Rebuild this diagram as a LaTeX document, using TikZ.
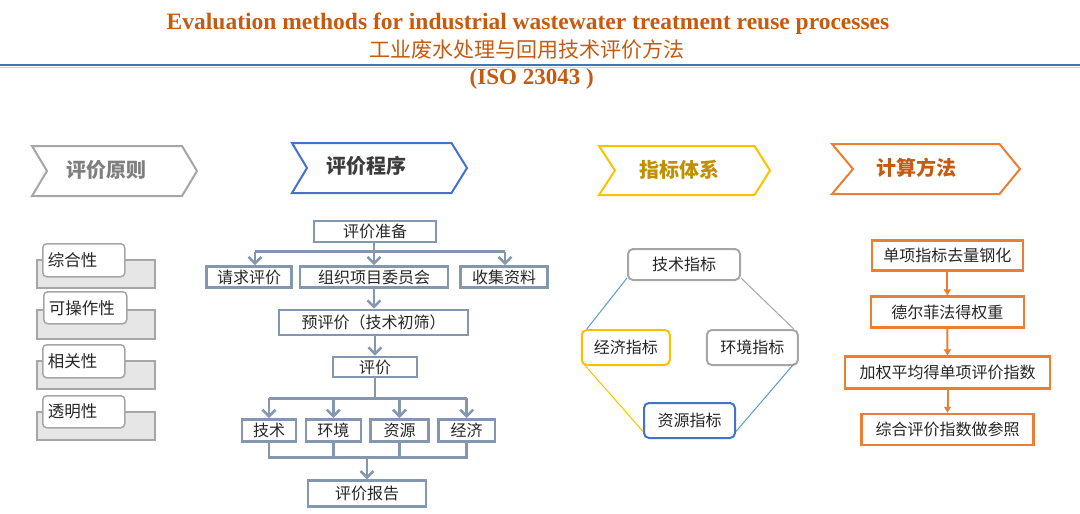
\documentclass[tikz,border=0pt]{standalone}
\usepackage{fontspec}
\setmainfont{Liberation Serif}
\newfontfamily\cjk{Noto Sans CJK SC}
\usetikzlibrary{arrows.meta,calc}
\definecolor{ttl}{HTML}{C55A11}
\definecolor{bl}{HTML}{3B78B8}
\definecolor{gr}{HTML}{A6A6A6}
\definecolor{grtx}{HTML}{7F7F7F}
\definecolor{bluec}{HTML}{4472C4}
\definecolor{yel}{HTML}{FFC000}
\definecolor{yeltx}{HTML}{BF9000}
\definecolor{org}{HTML}{ED7D31}
\definecolor{slate}{HTML}{8497B0}
\definecolor{lblue}{HTML}{5B9BD5}
\definecolor{tx}{HTML}{262626}
\definecolor{shade}{HTML}{E6E6E6}
\tikzset{
  hdr/.style={font=\cjk\bfseries\fontsize{20}{24}\selectfont},
  procbox/.style={draw=slate, line width=2.6pt, inner sep=0pt, text=tx, font=\cjk\fontsize{16}{19}\selectfont},
  procarr/.style={draw=slate, line width=2.6pt, -{Straight Barb[length=6.5pt,width=13pt]}},
  procln/.style={draw=slate, line width=2.6pt},
  pshade/.style={draw=gr, fill=shade, line width=1.5pt, inner sep=0pt, anchor=north west},
  pbox/.style={draw=gr, fill=white, line width=1.5pt, rounded corners=4pt, anchor=north west, inner xsep=5pt, inner ysep=0pt, align=left, text=tx, font=\cjk\fontsize{16.5}{19}\selectfont},
  indbox/.style={line width=2pt, rounded corners=5pt, inner sep=0pt, text=tx, font=\cjk\fontsize{16}{19}\selectfont},
  calcbox/.style={draw=org, line width=2.5pt, inner sep=0pt, text=tx, font=\cjk\fontsize{16}{19}\selectfont},
  calcarr/.style={draw=org, line width=2pt, -{Triangle[length=6pt,width=7pt]}},
}
\begin{document}
\begin{tikzpicture}[x=1pt,y=-1pt]
\useasboundingbox (0,0) rectangle (1080,514);
% titles
\node[anchor=base, text=ttl, font=\bfseries\fontsize{23.5}{26}\selectfont, inner sep=0pt] (t1) at (528,30) {Evaluation methods for industrial wastewater treatment reuse processes};
\node[text=ttl, font=\cjk\fontsize{21}{24}\selectfont, inner sep=0pt] (t2) at (527,49.5) {工业废水处理与回用技术评价方法};
\node[anchor=base, text=ttl, font=\bfseries\fontsize{23}{26}\selectfont, inner sep=0pt] (t3) at (531.7,84.3) {(ISO 23043 )};
\draw[gr!50, line width=1pt] (0,67) -- (1080,67);
\draw[bl, line width=2.5pt] (0,65) -- (1080,65);
% chevrons
\draw[gr, line width=2pt] (32,146) -- (182,146) -- (197,171) -- (182,196) -- (32,196) -- (47,171) -- cycle;
\node[hdr, text=grtx] (h1) at (106,170) {评价原则};
\draw[bluec, line width=2pt] (292,143) -- (451.5,143) -- (467,168) -- (451.5,193) -- (292,193) -- (307,168) -- cycle;
\node[hdr, text=tx!90] (h2) at (366,166) {评价程序};
\draw[yel, line width=2pt] (599,146) -- (754.5,146) -- (770,170.5) -- (754.5,195) -- (599,195) -- (615,170.5) -- cycle;
\node[hdr, text=yeltx] (h3) at (679,170) {指标体系};
\draw[org, line width=2pt] (832,144) -- (999.5,144) -- (1020,169) -- (999.5,194) -- (832,194) -- (853,169) -- cycle;
\node[hdr, text=ttl] (h4) at (916.6,168) {计算方法};
% principles
\node[pshade, minimum width=118pt, minimum height=28pt] (g1) at (36,259) {};
\node[pbox, text width=72pt, minimum height=33pt] (p1) at (42,243) {综合性};
\node[pshade, minimum width=118pt, minimum height=29pt] (g2) at (36,309) {};
\node[pbox, text width=73pt, minimum height=32pt] (p2) at (43,291) {可操作性};
\node[pshade, minimum width=118pt, minimum height=28pt] (g3) at (36,360) {};
\node[pbox, text width=72pt, minimum height=33pt] (p3) at (42,344) {相关性};
\node[pshade, minimum width=118pt, minimum height=28pt] (g4) at (36,411) {};
\node[pbox, text width=72pt, minimum height=32pt] (p4) at (42,395) {透明性};
% procedure
\node[procbox, minimum width=122pt, minimum height=21pt] (prep) at (375,231.3) {评价准备};
\node[procbox, minimum width=85pt, minimum height=21pt] (req) at (249.2,277) {请求评价};
\node[procbox, minimum width=148pt, minimum height=21pt] (orgc) at (374,277) {组织项目委员会};
\node[procbox, minimum width=86.6pt, minimum height=21pt] (col) at (504,277) {收集资料};
\node[procbox, minimum width=189pt, minimum height=25pt] (pre) at (373.5,322.5) {预评价（技术初筛）};
\node[procbox, minimum width=84pt, minimum height=20pt] (ev) at (375,367) {评价};
\node[procbox, minimum width=54pt, minimum height=22.4pt] (tech) at (269,430.5) {技术};
\node[procbox, minimum width=55pt, minimum height=22.4pt] (env) at (333.3,430.5) {环境};
\node[procbox, minimum width=57.6pt, minimum height=22.4pt] (res) at (399.5,430.5) {资源};
\node[procbox, minimum width=56.7pt, minimum height=22.4pt] (eco) at (466.7,430.5) {经济};
\node[procbox, minimum width=118pt, minimum height=26pt] (rep) at (367,493.7) {评价报告};
\coordinate (b1l) at (255,251.7);
\coordinate (b1r) at (505,251.7);
\coordinate (b1m) at (374,251.7);
\draw[procln] (b1l) -- (b1r);
\draw[procarr] (b1l) -- (b1l |- req.north);
\draw[procarr] (b1r) -- (b1r |- col.north);
\draw[procarr] (prep.south -| b1m) -- (orgc.north -| b1m);
\draw[procarr] (orgc.south -| b1m) -- (pre.north -| b1m);
\draw[procarr] (pre.south -| ev) -- (ev.north);
\coordinate (b2m) at (375,398.3);
\draw[procln] (ev.south) -- (b2m);
\draw[procln] (b2m -| tech) -- (b2m -| eco);
\draw[procarr] (b2m -| tech) -- (tech.north);
\draw[procarr] (b2m -| env) -- (env.north);
\draw[procarr] (b2m -| res) -- (res.north);
\draw[procarr] (b2m -| eco) -- (eco.north);
\coordinate (b3m) at (367,457.7);
\draw[procln] (tech.south) -- (b3m -| tech) -- (b3m -| eco) -- (eco.south);
\draw[procln] (env.south) -- (b3m -| env);
\draw[procln] (res.south) -- (b3m -| res);
\draw[procarr] (b3m) -- (rep.north);
% indicators
\node[indbox, draw=gr, minimum width=112pt, minimum height=31pt] (ti) at (684,264.5) {技术指标};
\node[indbox, draw=yel, minimum width=88pt, minimum height=35pt] (ei) at (625.8,347.5) {经济指标};
\node[indbox, draw=gr, minimum width=91pt, minimum height=35pt] (hi) at (752.3,347.5) {环境指标};
\node[indbox, draw=bluec, minimum width=91pt, minimum height=35pt] (ri) at (689.5,420.5) {资源指标};
\draw[lblue, line width=1pt] ($(ti.south west)+(0,-3)$) -- ($(ei.north west)+(6,0)$);
\draw[gr, line width=1pt] ($(ti.south east)+(0,-3)$) -- ($(hi.north east)+(-5,0)$);
\draw[yel, line width=1pt] ($(ei.south west)+(3,-2)$) -- ($(ri.west)+(0,11)$);
\draw[lblue, line width=1pt] ($(hi.south east)+(-5,-2)$) -- ($(ri.east)+(0,11)$);
% calculation
\node[calcbox, minimum width=151pt, minimum height=30pt] (c1) at (947.3,255.7) {单项指标去量钢化};
\node[calcbox, minimum width=153pt, minimum height=30.6pt] (c2) at (947.3,312) {德尔菲法得权重};
\node[calcbox, minimum width=205pt, minimum height=31.6pt] (c3) at (947.5,372.5) {加权平均得单项评价指数};
\node[calcbox, minimum width=171.6pt, minimum height=31pt] (c4) at (947.5,429.5) {综合评价指数做参照};
\draw[calcarr] (c1.south) -- (c2.north);
\draw[calcarr] (c2.south) -- (c3.north);
\draw[calcarr] (c3.south) -- (c4.north);
\end{tikzpicture}
\end{document}
